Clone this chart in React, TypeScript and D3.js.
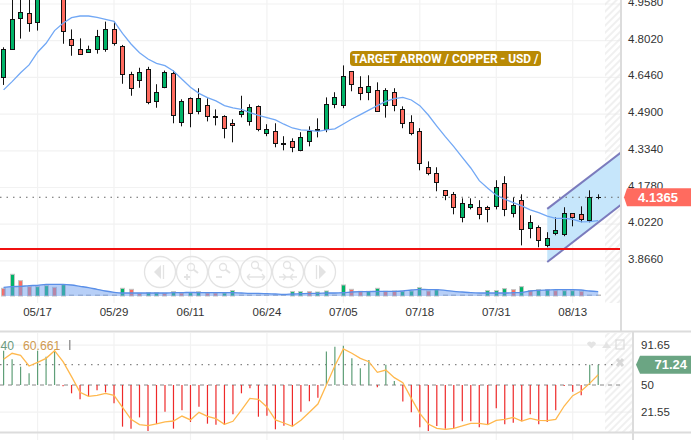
import * as React from 'react';
import * as d3 from 'd3';

const opens = [4.649,4.768,4.897,4.918,4.880,5.01,5.05,5.017,4.808,4.765,4.755,4.765,4.768,4.850,4.778,4.659,4.634,4.680,4.544,4.607,4.663,4.455,4.557,4.502,4.527,4.481,4.481,4.451,4.489,4.459,4.523,4.408,4.417,4.366,4.374,4.336,4.374,4.421,4.425,4.532,4.527,4.672,4.604,4.583,4.591,4.527,4.583,4.510,4.455,4.417,4.264,4.238,4.166,4.149,4.051,4.094,4.094,4.094,4.098,4.196,4.068,4.124,4.005,4.009,3.932,3.983,3.979,4.068,4.064,4.039,4.135];
const highs = [4.774,4.996,4.996,4.99,5.03,5.06,5.06,5.04,4.850,4.812,4.781,4.848,4.883,4.883,4.784,4.670,4.687,4.691,4.617,4.675,4.675,4.553,4.561,4.600,4.557,4.510,4.485,4.468,4.568,4.532,4.527,4.447,4.451,4.396,4.387,4.413,4.438,4.472,4.561,4.583,4.697,4.672,4.651,4.655,4.625,4.600,4.600,4.523,4.485,4.430,4.289,4.264,4.166,4.159,4.132,4.132,4.124,4.100,4.209,4.226,4.136,4.149,4.060,4.017,3.988,4.051,4.094,4.068,4.098,4.166,4.149];
const lows = [4.614,4.764,4.811,4.840,4.845,4.99,4.985,4.789,4.738,4.743,4.755,4.747,4.755,4.781,4.619,4.568,4.602,4.532,4.517,4.600,4.451,4.438,4.434,4.489,4.459,4.442,4.387,4.370,4.476,4.441,4.417,4.396,4.349,4.336,4.328,4.332,4.353,4.391,4.413,4.515,4.515,4.587,4.549,4.549,4.502,4.475,4.502,4.430,4.400,4.251,4.230,4.162,4.124,4.064,4.030,4.085,4.043,4.030,4.085,4.056,4.051,3.932,3.962,3.924,3.924,3.975,3.971,4.013,4.030,4.030,4.128];
const closes = [4.765,4.893,4.923,4.876,5.017,5.05,5.00,4.845,4.785,4.747,4.765,4.821,4.850,4.794,4.659,4.600,4.668,4.540,4.583,4.668,4.485,4.544,4.493,4.557,4.481,4.476,4.430,4.445,4.502,4.519,4.425,4.425,4.366,4.362,4.349,4.391,4.417,4.425,4.532,4.561,4.651,4.617,4.578,4.608,4.505,4.591,4.527,4.451,4.408,4.281,4.238,4.200,4.145,4.094,4.111,4.107,4.064,4.085,4.179,4.085,4.102,4.000,4.030,3.954,3.962,3.996,4.068,4.051,4.043,4.136,4.1365];
const priceAvg = [4.593,4.628,4.666,4.699,4.753,4.791,4.845,4.876,4.900,4.907,4.907,4.901,4.893,4.884,4.833,4.788,4.751,4.724,4.706,4.696,4.673,4.638,4.604,4.578,4.560,4.546,4.526,4.516,4.510,4.496,4.485,4.475,4.465,4.447,4.431,4.423,4.421,4.417,4.423,4.427,4.448,4.469,4.488,4.507,4.526,4.544,4.556,4.561,4.550,4.526,4.486,4.439,4.394,4.352,4.306,4.261,4.207,4.175,4.145,4.128,4.114,4.100,4.083,4.071,4.056,4.047,4.047,4.043,4.032,4.033,4.037];

const volumes = [23,65,46,28,28,31,26,34,1,1,1,1,1,1,23,20,8,10,10,8,13,9,10,13,9,9,9,16,1,1,1,1,1,1,13,13,13,12,15,1,33,20,14,14,23,14,15,14,15,25,15,19,1,1,1,1,1,16,16,22,19,28,16,19,19,16,16,16,14,1,1];
const volumeSide = 'rgrrggrgnnnnnngrrggrgrggrrggnnnnnnggrggngrrggrrgggrgnnnnngggrgrggrggrnn'.split('');
const volumeAvg = [26,28,29,31,32,35,35,35,33,29,25,20,15,11,9,9,9,9,9,9,10,10,11,10,10,10,10,10,9,8,8,7,6,5,6,7,8,8,9,9,10,12,13,13,14,14,14,15,18,20,19,19,17,14,12,10,9,9,9,9,10,11,15,17,18,19,19,19,18,15,13];

const oscBars = [85.9,76.9,69.2,62.2,85.9,79.7,85.9,48.6,41.3,35.0,38.5,44.4,42.3,30.8,6.4,4.3,16.1,1.8,9.2,22.1,4.3,23.5,11.3,27.3,9.5,8.5,8.1,19.3,41.3,46.5,16.8,17.9,3.6,7.4,6.7,22.1,32.9,36.7,85.2,90.1,91.2,77.9,67.5,76.2,47.6,71.3,54.2,32.6,21.4,5.7,1.8,7.1,4.3,5.0,12.0,12.0,5.7,8.5,25.6,8.8,10.6,12.0,19.3,8.8,11.3,23.5,49.0,43.0,39.2,71.24,71.24];
const oscLine = [76.9,83.2,81.1,69.9,73.7,77.9,85.9,74.4,58.7,42.3,38.1,39.2,41.3,39.2,26.6,14.1,8.5,7.4,9.2,11.3,12.3,17.5,13.4,21.4,17.2,14.8,8.8,12.0,23.8,36.0,35.0,27.0,13.4,10.2,6.7,13.0,21.4,30.1,50,70.2,87.7,83.2,77.9,74.4,63.3,65.7,57.7,52.4,36.0,20.3,9.2,4.6,3.6,4.6,7.1,9.9,9.9,8.5,13.0,14.1,16.1,12.3,15.1,13.0,12.7,14.1,28.0,38.8,43.7,51.7,60.661];

const priceTicks = [4.958,4.802,4.646,4.49,4.334,4.178,4.022,3.866];
const oscTicks = [91.65,50,21.55];
const dateIdx = [4,13,22,31,40,49,58,67];
const dateLabels = ['05/17','05/29','06/11','06/24','07/05','07/18','07/31','08/13'];

const lastPrice = 4.1365;
const supportPrice = 3.917;
const channelIdx = [64,72.8];
const channelUpper = [4.087,4.330];
const channelLower = [3.861,4.108];
const lastOsc = 71.24;

const UP = '#00b368';
const DOWN = '#ff6b5f';
const GRID = '#f2f2f2';
const SEP = '#dcdcdc';
const FONT = '"Liberation Sans", Arial, sans-serif';

const x = d3.scaleLinear().domain([0, 70]).range([3.6, 598.2]);
const y = d3.scaleLinear().domain([4.958, 3.866]).range([4, 260.9]);
const vol = d3.scaleLinear().domain([0, 65]).range([296, 274.3]);
const osc = d3.scaleLinear().domain([0, 100]).range([432.75, 337.25]);

const idx = opens.map((_, i) => i);

const avgPath = d3.line<number>().x((_, i) => x(i)).y(d => y(d))(priceAvg) as string;
const volPath = d3.line<number>().x((_, i) => x(i)).y(d => vol(d)).curve(d3.curveMonotoneX)(volumeAvg) as string;
const volArea = d3.area<number>().x((_, i) => x(i)).y0(vol(0)).y1(d => vol(d)).curve(d3.curveMonotoneX)(volumeAvg) as string;
const oscPath = d3.line<number>().x((_, i) => x(i)).y(d => osc(d))(oscLine) as string;

const channelFill = d3.area<number>()
    .x(d => x(d))
    .y0((_, i) => y(channelLower[i]))
    .y1((_, i) => y(channelUpper[i]))(channelIdx) as string;
const channelTop = d3.line<number>().x(d => x(d)).y((_, i) => y(channelUpper[i]))(channelIdx) as string;
const channelBottom = d3.line<number>().x(d => x(d)).y((_, i) => y(channelLower[i]))(channelIdx) as string;

const navX = [160, 192, 224, 256, 288, 320];
const NAV = '#e3e3e3';

const Lens = ({ cx, cy }: { cx: number, cy: number }) => (
    <g fill='none' stroke={NAV}>
        <circle cx={cx - 1} cy={cy - 5} r={3.5} strokeWidth={1.3} />
        <line x1={cx + 1.5} y1={cy - 2.5} x2={cx + 6} y2={cy + 1} strokeWidth={2} />
    </g>
);

const App: React.FC = () => {
    return (
        <svg width={691} height={440} style={{ position: 'absolute', left: 0, top: 0, background: '#fff' }} fontFamily={FONT}>
            <defs>
                <clipPath id='mainClip'><rect x={0} y={0} width={621} height={303} /></clipPath>
                <clipPath id='oscClip'><rect x={0} y={333} width={632} height={99} /></clipPath>
                <pattern id='hatch' width={5} height={5} patternUnits='userSpaceOnUse' patternTransform='rotate(-45)'>
                    <line x1={0} y1={1} x2={5} y2={1} stroke='#e6e6e6' strokeWidth={1.2} />
                </pattern>
            </defs>

            {/* grid */}
            {priceTicks.map(t => (
                <line key={t} x1={0} x2={621} y1={y(t)} y2={y(t)} stroke={GRID} strokeWidth={1.2} />
            ))}
            {dateIdx.map(i => (
                <g key={i}>
                    <line x1={x(i)} x2={x(i)} y1={0} y2={303} stroke={GRID} strokeWidth={1.2} />
                    <line x1={x(i)} x2={x(i)} y1={333} y2={440} stroke={GRID} strokeWidth={1.2} />
                </g>
            ))}
            {oscTicks.filter(t => t !== 50).map(t => (
                <line key={t} x1={0} x2={632} y1={osc(t)} y2={osc(t)} stroke={GRID} strokeWidth={1.2} />
            ))}

            <rect x={605} y={0} width={16} height={303} fill='url(#hatch)' />
            <rect x={605} y={333} width={27} height={99} fill='url(#hatch)' />

            <g clipPath='url(#mainClip)'>
                <path d={channelFill} fill='#c6e6fb' />
                <line x1={0} x2={621} y1={y(lastPrice)} y2={y(lastPrice)} stroke='#666' strokeWidth={1} strokeDasharray='1.5 5' />

                {/* candles */}
                {idx.map(i => {
                    const top = Math.round(y(Math.max(opens[i], closes[i]))) + 0.5;
                    const bot = Math.round(y(Math.min(opens[i], closes[i]))) + 0.5;
                    const cx = Math.floor(x(i)) + 0.5;
                    const last = i === idx.length - 1;
                    return (
                        <g key={i}>
                            <line x1={cx} x2={cx} y1={y(highs[i])} y2={y(lows[i])} stroke='#111' strokeWidth={1} />
                            {last
                                ? <line x1={cx - 2.5} x2={cx + 2.5} y1={top} y2={top} stroke='#111' strokeWidth={1} />
                                : <rect x={cx - 2} y={top} width={4} height={Math.max(bot - top, 1)}
                                    fill={closes[i] >= opens[i] ? UP : DOWN} stroke='#111' strokeWidth={1} />}
                        </g>
                    );
                })}

                <path d={avgPath} fill='none' stroke='#72a8f5' strokeWidth={1.3} />
                <path d={channelTop} fill='none' stroke='#7b7bbd' strokeWidth={2} />
                <path d={channelBottom} fill='none' stroke='#7b7bbd' strokeWidth={2} />
                <line x1={0} x2={621} y1={y(supportPrice)} y2={y(supportPrice)} stroke='#f01010' strokeWidth={2} />

                {/* volume */}
                {idx.map(i => {
                    const side = volumeSide[i];
                    const cx = Math.floor(x(i)) + 0.5;
                    if (side === 'n') {
                        return <rect key={i} x={cx - 2.5} y={vol(0) - 1.5} width={5} height={1.5} fill='#bdbdbd' />;
                    }
                    return (
                        <rect key={i} x={cx - 2} y={vol(volumes[i])} width={4} height={vol(0) - vol(volumes[i])}
                            fill={side === 'g' ? UP : DOWN} stroke='#c4c4c4' strokeWidth={1} />
                    );
                })}
                <path d={volArea} fill='#6f9ff0' fillOpacity={0.5} />
                <path d={volPath} fill='none' stroke='#5a8fe8' strokeWidth={1.3} />
            </g>

            {/* navigation buttons */}
            <g>
                {navX.map(cx => (
                    <circle key={cx} cx={cx} cy={272} r={15.5} fill='#fff' fillOpacity={0.25} stroke={NAV} strokeWidth={1.3} />
                ))}
                <path d={`M${navX[0] - 6},272 L${navX[0] + 1},265 V279 Z`} fill={NAV} />
                <line x1={navX[0] + 3.5} x2={navX[0] + 3.5} y1={265} y2={279} stroke={NAV} strokeWidth={1.3} />
                <Lens cx={navX[1]} cy={272} />
                <path d={`M${navX[1] - 8},277 h6 M${navX[1] - 5},274 v6`} stroke={NAV} strokeWidth={1.8} />
                <Lens cx={navX[2]} cy={272} />
                <path d={`M${navX[2] - 8},277 h6`} stroke={NAV} strokeWidth={1.8} />
                <Lens cx={navX[3]} cy={270} />
                <path d={`M${navX[3] - 9},277 h18 M${navX[3] - 9},277 l3,-3 M${navX[3] - 9},277 l3,3 M${navX[3] + 9},277 l-3,-3 M${navX[3] + 9},277 l-3,3`} stroke={NAV} strokeWidth={1.3} fill='none' />
                <Lens cx={navX[4]} cy={270} />
                <path d={`M${navX[4] - 9},277 h18 M${navX[4] - 2},277 l-3,-3 M${navX[4] - 2},277 l-3,3 M${navX[4] + 2},277 l3,-3 M${navX[4] + 2},277 l3,3`} stroke={NAV} strokeWidth={1.3} fill='none' />
                <path d={`M${navX[5] + 6},272 L${navX[5] - 1},265 V279 Z`} fill={NAV} />
                <line x1={navX[5] - 3.5} x2={navX[5] - 3.5} y1={265} y2={279} stroke={NAV} strokeWidth={1.3} />
            </g>

            {/* title tag */}
            <rect x={350} y={51} width={191} height={15} rx={3.5} fill='#b98a05' />
            <text x={352.5} y={62.8} fontSize={11.9} fontWeight='bold' fill='#fff' fontFamily='Roboto, sans-serif'>TARGET ARROW / COPPER - USD /</text>

            {/* date axis */}
            {dateIdx.map((i, k) => (
                <text key={i} x={x(i)} y={316} textAnchor='middle' fontSize={11.5} fill='#333'>{dateLabels[k]}</text>
            ))}

            {/* oscillator */}
            <g clipPath='url(#oscClip)'>
                <line x1={0} x2={624} y1={osc(lastOsc)} y2={osc(lastOsc)} stroke='#666' strokeWidth={1} strokeDasharray='1.5 5' />
                <line x1={0} x2={624} y1={osc(50)} y2={osc(50)} stroke='#888' strokeWidth={1} strokeDasharray='4 4' />
                {idx.map(i => (
                    <line key={i} x1={x(i)} x2={x(i)} y1={osc(50)} y2={osc(oscBars[i])}
                        stroke={oscBars[i] >= 50 ? '#5f9f78' : '#ee2a2a'} strokeWidth={1.2} />
                ))}
                <path d={oscPath} fill='none' stroke='#ffb84d' strokeWidth={1.3} />
            </g>
            <text x={0.5} y={350} fontSize={12.2} fill='#6c9a80'>40</text>
            <text x={23} y={350} fontSize={12.2} fill='#d09a50'>60.661</text>
            <rect x={69} y={340} width={1.5} height={10} fill='#999' />

            {/* oscillator panel icons */}
            <g fill='#e4e4e4' stroke='none'>
                <path d='M587,344 a2.5,2.5 0 0 1 4.5,-1.5 a2.5,2.5 0 0 1 4.5,1.5 l-4.5,4.5 Z' />
                <path d='M602,348 l4.5,-6 l4.5,6 Z' />
                <rect x={616} y={340} width={8} height={9} fill='none' stroke='#dcdcdc' strokeWidth={1.2} />
                <path d='M617,359 l6,7 M623,359 l-6,7' stroke='#d8d8d8' strokeWidth={3} />
            </g>

            {/* panel separators */}
            <line x1={621} x2={621} y1={0} y2={331} stroke={SEP} strokeWidth={2} />
            <line x1={633} x2={633} y1={331} y2={440} stroke={SEP} strokeWidth={2} />
            <line x1={0} x2={691} y1={331.5} y2={331.5} stroke={SEP} strokeWidth={2} />
            <line x1={0} x2={691} y1={432.5} y2={432.5} stroke={SEP} strokeWidth={2} />

            {/* price axis */}
            {priceTicks.map(t => (
                <text key={t} x={628} y={y(t) + 2} fontSize={11.5} fill='#333'>{t.toFixed(4)}</text>
            ))}
            <path d={`M627,${y(lastPrice) - 9} H691 V${y(lastPrice) + 9} H627 L624,${y(lastPrice)} Z`} fill={DOWN} />
            <text x={658} y={y(lastPrice) + 4.5} textAnchor='middle' fontSize={13} fontWeight='bold' fill='#fff'>{lastPrice.toFixed(4)}</text>

            {/* oscillator axis */}
            {oscTicks.map(t => (
                <text key={t} x={641} y={osc(t) + 4} fontSize={11.5} fill='#333'>{t}</text>
            ))}
            <path d={`M640,${osc(lastOsc) - 9} H691 V${osc(lastOsc) + 9} H640 L636,${osc(lastOsc)} Z`} fill='#6ba583' />
            <text x={687} y={osc(lastOsc) + 4.5} textAnchor='end' fontSize={13} fontWeight='bold' fill='#fff'>{lastOsc}</text>
        </svg>
    );
};

export default App;
